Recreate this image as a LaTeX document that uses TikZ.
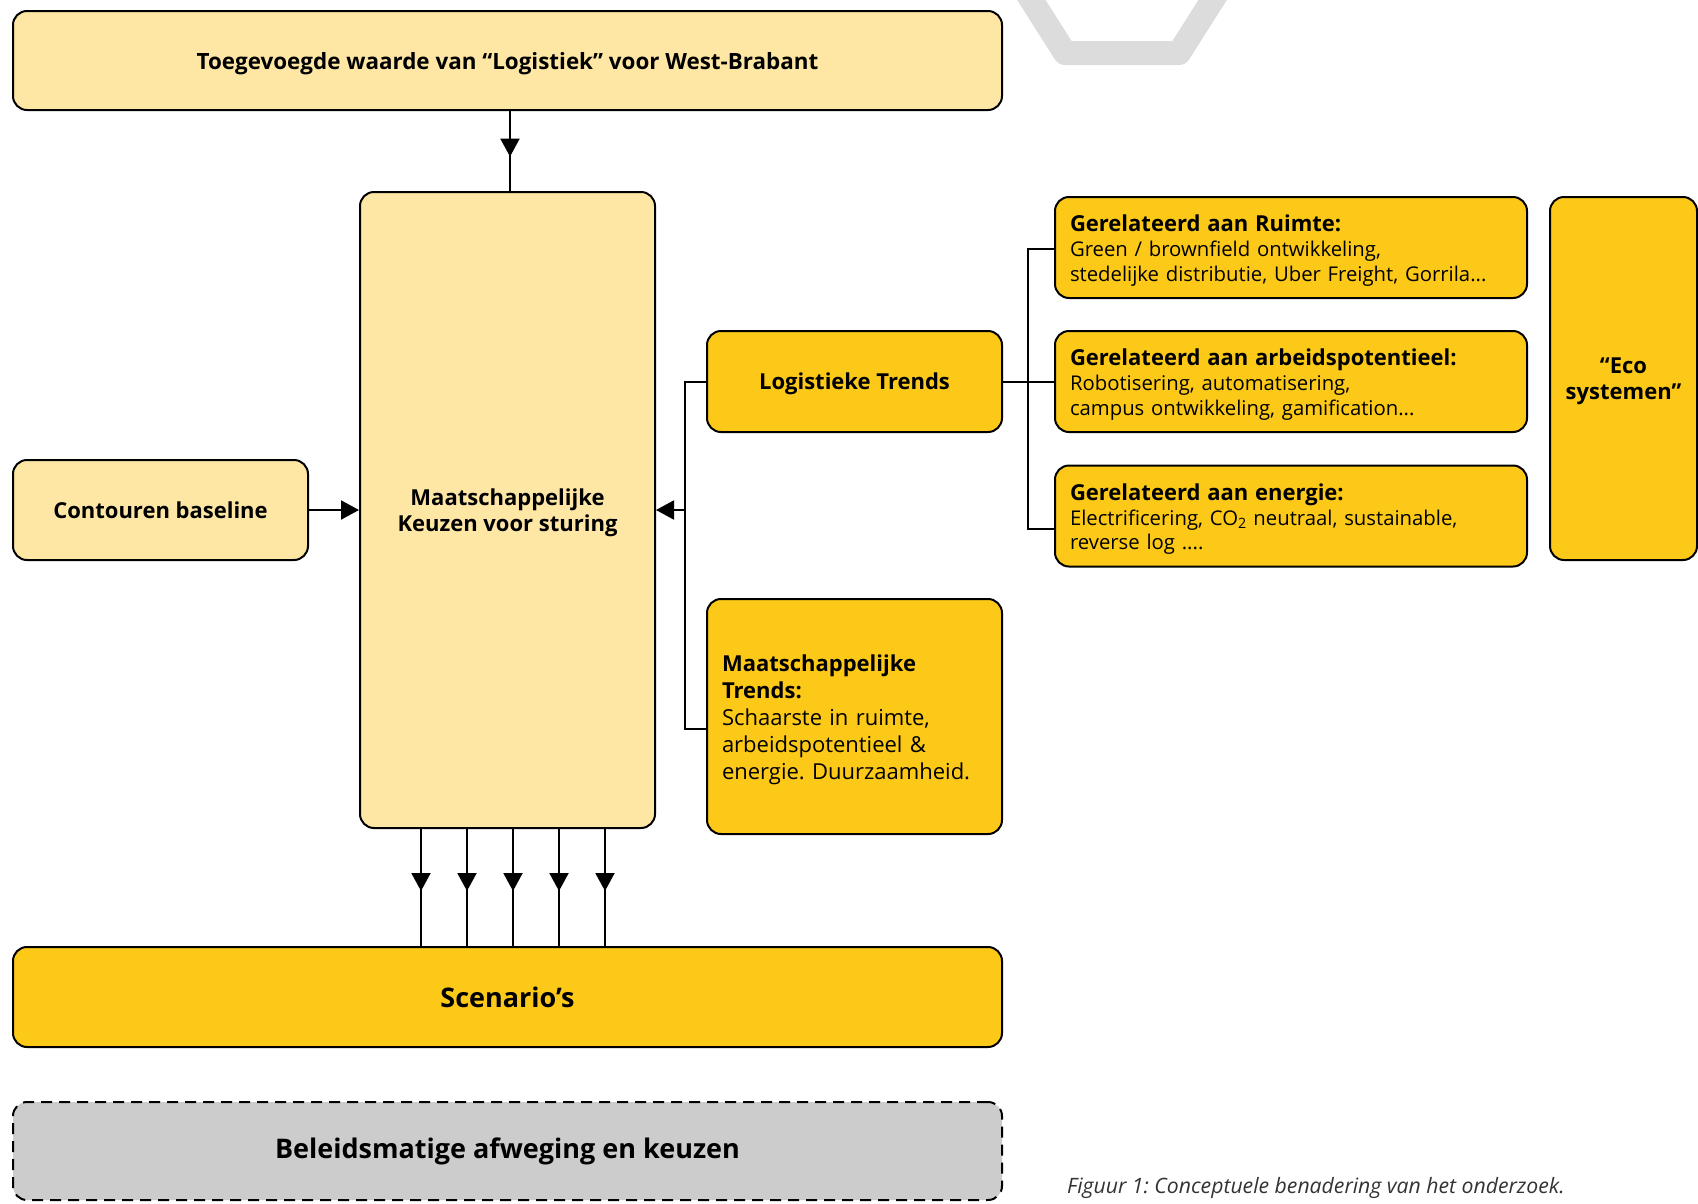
\documentclass[tikz,border=0pt]{standalone}
\usepackage{fontspec}
\setmainfont{Open Sans}
\usetikzlibrary{arrows.meta,decorations.markings}
\definecolor{lightyel}{HTML}{FEE6A5}
\definecolor{darkyel}{HTML}{FCC919}
\definecolor{hexgray}{HTML}{DCDCDD}
\definecolor{belgray}{HTML}{CCCCCC}
\definecolor{capgray}{HTML}{333333}
\frenchspacing
\hyphenpenalty=10000
\begin{document}
\begin{tikzpicture}[x=1pt,y=-1pt,
  box/.style={draw=black, line width=2pt, rounded corners=14pt, inner sep=0pt, align=center,
    font=\fontsize{22}{26}\selectfont\bfseries},
  light/.style={box, fill=lightyel},
  dark/.style={box, fill=darkyel},
  nodepth/.style={text depth=0pt},
  conn/.style={line width=2pt},
  tip/.style={conn, -{Triangle[width=19pt,length=18pt]}},
  midarrow/.style={conn, postaction={decorate}, decoration={markings,
    mark=at position #1 with {\arrow{Triangle[width=19pt,length=18pt]}}}},
  gerel/.style={dark, minimum width=472pt, minimum height=101pt, text width=442pt, align=left,
    font=\fontsize{20.3}{24.7}\selectfont},
]
\newcommand{\gbold}[1]{{\fontsize{22}{24.7}\selectfont\bfseries\rule{0pt}{23pt}#1}}
\useasboundingbox (0,0) rectangle (1698,1203);
% gray hexagon fragment
\draw[hexgray, line width=24pt, line join=round] (1018.7,-20) -- (1065,53) -- (1179,53) -- (1225.3,-20);

\node[light, nodepth, minimum width=989pt, minimum height=99pt, font=\fontsize{22.4}{26}\selectfont\bfseries] (top) at (507.5,60.5)
  {Toegevoegde waarde van “Logistiek” voor West-Brabant};
\node[light, nodepth, minimum width=295pt, minimum height=636pt] (main) at (507.5,510)
  {Maatschappelijke\\Keuzen voor sturing};
\node[light, minimum width=295pt, minimum height=100pt] (cont) at (160.5,510)
  {Contouren baseline};
\node[dark, nodepth, minimum width=295pt, minimum height=101pt] (lt) at (854.5,381.5)
  {Logistieke Trends};
\node[dark, minimum width=295pt, minimum height=235pt, text width=265pt, align=left,
  font=\fontsize{22}{26.9}\selectfont] (mt) at (854.5,716.5)
  {{\bfseries\rule{0pt}{23pt}Maatschappelijke\\Trends:}\\Schaarste in ruimte,\\arbeidspotentieel \&\\energie. Duurzaamheid.};
\node[gerel] (r1) at (1291,247.5)
  {\gbold{Gerelateerd aan Ruimte:}\\Green / brownfield ontwikkeling,\\stedelijke distributie, Uber Freight, Gorrila...};
\node[gerel] (r2) at (1291,381.5)
  {\gbold{Gerelateerd aan arbeidspotentieel:}\\Robotisering, automatisering,\\campus ontwikkeling, gamification...};
\node[gerel] (r3) at (1291,516)
  {\gbold{Gerelateerd aan energie:}\\Electrificering, CO\textsubscript{2} neutraal, sustainable,\\reverse log ....};
\node[dark, nodepth, minimum width=147pt, minimum height=363pt] (eco) at (1623.5,378.5)
  {“Eco\\systemen”};
\node[dark, minimum width=989pt, minimum height=100pt, font=\fontsize{27}{30}\selectfont\bfseries] (scen) at (507.5,997)
  {Scenario’s};
\node[box, fill=belgray, dash pattern=on 11pt off 7pt, minimum width=989pt, minimum height=98pt,
  font=\fontsize{27}{30}\selectfont\bfseries] (bel) at (507.5,1151)
  {Beleidsmatige afweging en keuzen};
\node[anchor=west, inner sep=0pt, text=capgray, font=\fontsize{21.2}{24}\selectfont\itshape] (cap) at (1067,1188)
  {Figuur 1: Conceptuele benadering van het onderzoek.};

% connectors
\draw[midarrow=0.57] (510,0 |- top.south) -- (510,0 |- main.north);
\draw[tip] (cont.east) -- (main.west);
\coordinate (lb) at (685,510);
\draw[conn] (lt.west) -- (lt.west -| lb) -- ([yshift=-12.5pt]mt.west -| lb) -- ([yshift=-12.5pt]mt.west);
\draw[tip] (lb) -- (main.east);
\coordinate (rb) at (1028,381.5);
\draw[conn] (lt.east) -- (r2.west);
\draw[conn] ([yshift=-1.5pt]r1.west) -| (rb) |- ([yshift=-13pt]r3.west);
\foreach \x in {421,467,513,559,605}
  \draw[midarrow=0.53] (\x,0 |- main.south) -- (\x,0 |- scen.north);
\end{tikzpicture}
\end{document}
